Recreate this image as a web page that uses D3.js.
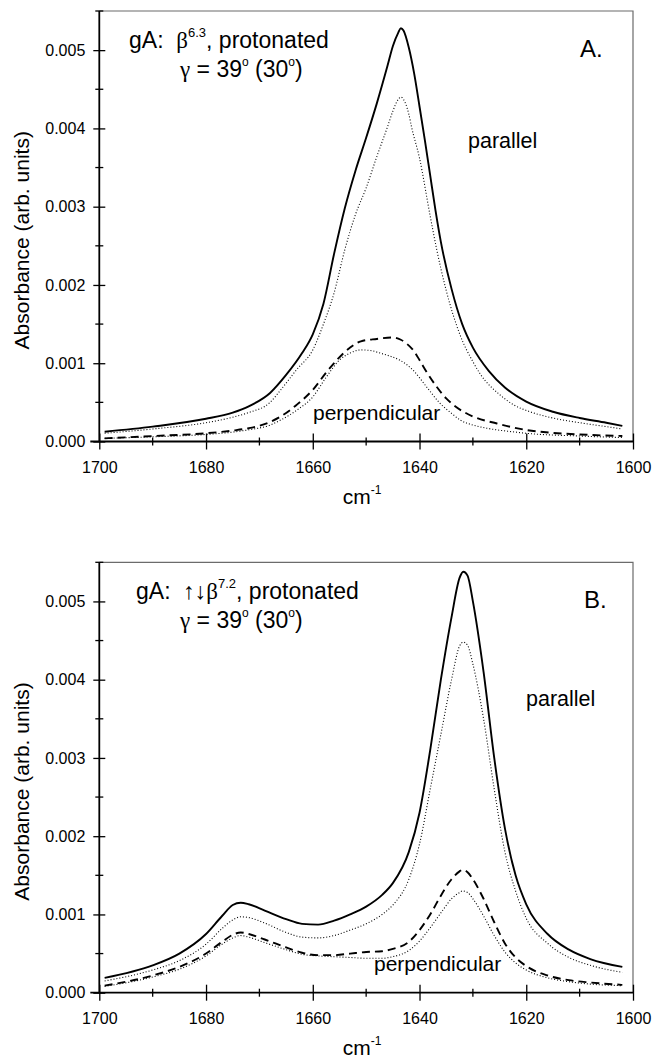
<!DOCTYPE html>
<html><head><meta charset="utf-8">
<script src="https://cdn.jsdelivr.net/npm/d3@7"></script>
<style>
body{margin:0;background:#fff;}
svg{display:block;}
text{font-family:"Liberation Sans",Arial,sans-serif;fill:#000;white-space:pre;}
</style></head>
<body><svg id="chart" width="654" height="1059"></svg>
<script>
// ---------- data ----------
const xMajorTicks = [1700,1680,1660,1640,1620,1600];
const xMinorTicks = [1690,1670,1650,1630,1610];
const yMajorTicks = [0,0.001,0.002,0.003,0.004,0.005];
const yMinorTicks = [0.0005,0.0015,0.0025,0.0035,0.0045,0.0055];

// Panel A (beta 6.3)
const aParallelSolid = [[1699,0.000125],[1690,0.00019],[1680,0.00029],[1675,0.00037],[1672,0.00045],[1668,0.00062],[1665,0.00085],[1662,0.00113],[1660,0.00137],[1658,0.00176],[1656,0.00240],[1654,0.00298],[1652,0.00346],[1650,0.00388],[1648,0.00432],[1646,0.00480],[1645,0.00505],[1644,0.00522],[1643.5,0.00528],[1643,0.00525],[1642,0.00503],[1641,0.00470],[1640,0.00428],[1639,0.00385],[1638,0.00340],[1637,0.00295],[1636,0.00255],[1634,0.00195],[1632,0.00150],[1630,0.00120],[1627,0.00090],[1624,0.00069],[1620,0.00051],[1615,0.00038],[1610,0.00030],[1605,0.00024],[1602,0.00020]];
const aParallelDotted = [[1699,0.000105],[1690,0.00016],[1680,0.00024],[1675,0.00031],[1672,0.00037],[1668,0.00050],[1666,0.00066],[1663,0.00092],[1660,0.00117],[1658,0.00150],[1656,0.00190],[1654,0.00245],[1652,0.00290],[1650,0.00324],[1648,0.00364],[1646,0.00402],[1645,0.00422],[1644,0.00437],[1643.5,0.00440],[1643,0.00437],[1642,0.00418],[1641.5,0.00402],[1640,0.00362],[1638,0.00288],[1636.8,0.00246],[1635,0.00193],[1632.4,0.00136],[1630,0.00102],[1628.6,0.00086],[1625,0.00060],[1622.4,0.00047],[1619.3,0.00038],[1615,0.00030],[1610,0.00024],[1605,0.00019],[1602,0.00016]];
const aPerpDashed = [[1699,0.00004],[1690,0.00007],[1680,0.000105],[1675,0.00014],[1672,0.00017],[1668,0.00025],[1666,0.00032],[1663,0.00047],[1660,0.00066],[1657.5,0.00088],[1655.5,0.00104],[1653,0.00120],[1651,0.00128],[1648,0.00131],[1645,0.00133],[1643.5,0.00130],[1642.4,0.00125],[1641,0.00115],[1640,0.00104],[1638.5,0.00087],[1636.8,0.00070],[1635,0.00055],[1633.7,0.00047],[1630,0.00032],[1625.5,0.00023],[1620,0.000147],[1615,0.00011],[1610,0.00009],[1602,0.00007]];
const aPerpDotted = [[1699,0.00004],[1690,0.00006],[1680,0.00009],[1675,0.00012],[1672,0.00015],[1668,0.00021],[1666,0.000275],[1663,0.00040],[1660,0.00057],[1657.5,0.00082],[1655,0.00104],[1653,0.00113],[1651,0.00117],[1649,0.00116],[1647.4,0.00113],[1645.5,0.00109],[1643.7,0.00104],[1641.2,0.00091],[1638.7,0.00070],[1636.2,0.00049],[1634,0.00036],[1632.4,0.000275],[1630,0.00021],[1627.4,0.00017],[1622,0.00012],[1620,0.000105],[1610,0.00007],[1602,0.00005]];

// Panel B (up-down beta 7.2)
const bParallelSolid = [[1699,0.00019],[1690,0.00035],[1685,0.00050],[1680,0.00075],[1677,0.00098],[1675,0.00112],[1673.5,0.00115],[1672,0.00113],[1669,0.00105],[1665,0.00094],[1662,0.00088],[1659,0.00087],[1656,0.00092],[1653,0.00100],[1650,0.00110],[1647,0.00125],[1645,0.00140],[1642,0.00180],[1640,0.00230],[1638,0.00310],[1636,0.00400],[1634,0.00480],[1632.5,0.00530],[1631.8,0.00538],[1631,0.00533],[1630,0.00500],[1628,0.00410],[1626,0.00300],[1624,0.00210],[1622,0.00150],[1620,0.00113],[1616,0.00075],[1612,0.00055],[1608,0.00043],[1602,0.00033]];
const bParallelDotted = [[1699,0.00015],[1690,0.00029],[1685,0.00041],[1680,0.00062],[1677,0.00082],[1675,0.00093],[1673.5,0.00097],[1672,0.00096],[1669,0.00089],[1665,0.00077],[1662,0.00071],[1659,0.00070],[1656,0.00073],[1653,0.00080],[1650,0.00088],[1647,0.00100],[1645,0.00112],[1642,0.00145],[1640,0.00190],[1638,0.00260],[1636,0.00330],[1634,0.00400],[1632.5,0.00443],[1631.8,0.00448],[1631,0.00444],[1630,0.00420],[1628,0.00350],[1626,0.00260],[1624,0.00180],[1622,0.00130],[1620,0.00095],[1616,0.00063],[1612,0.00045],[1608,0.00035],[1602,0.00026]];
const bPerpDashed = [[1699,0.00009],[1690,0.00022],[1685,0.00033],[1680,0.00050],[1677,0.00065],[1675,0.00074],[1673.5,0.00077],[1672,0.00075],[1669,0.00068],[1665,0.00058],[1662,0.00051],[1659,0.00048],[1656,0.00048],[1653,0.00050],[1650,0.00052],[1647,0.00053],[1645,0.00056],[1642,0.00065],[1640,0.00080],[1638,0.00100],[1636,0.00124],[1634,0.00145],[1632.5,0.00155],[1632,0.00157],[1631,0.00154],[1630,0.00145],[1628,0.00120],[1626,0.00090],[1624,0.00063],[1622,0.00045],[1620,0.00034],[1616,0.00022],[1612,0.00016],[1608,0.00013],[1602,0.00010]];
const bPerpDotted = [[1699,0.00008],[1690,0.00020],[1685,0.00030],[1680,0.00047],[1677,0.00062],[1675,0.00070],[1673.5,0.00073],[1672,0.00071],[1669,0.00064],[1665,0.00055],[1662,0.00049],[1659,0.00047],[1656,0.00046],[1653,0.00045],[1650,0.00044],[1647,0.00044],[1645,0.00046],[1642,0.00054],[1640,0.00066],[1638,0.00083],[1636,0.00102],[1634,0.00120],[1632.5,0.00128],[1632,0.00130],[1631,0.00128],[1630,0.00120],[1628,0.00098],[1626,0.00073],[1624,0.00052],[1622,0.00038],[1620,0.00029],[1616,0.00019],[1612,0.00014],[1608,0.00011],[1602,0.00009]];

// ---------- drawing ----------
const svg = d3.select("#chart");
const X0 = 99.3, X1 = 633;
const x = d3.scaleLinear().domain([1700,1600]).range([X0,X1]);

const styles = {
  solid:  {w:1.9, dash:null},
  dotted: {w:1.1, dash:"1,2"},
  dashed: {w:1.9, dash:"8,5"}
};

function panel(cfg){
  const y = d3.scaleLinear().domain([0,0.0055]).range([cfg.bottom,cfg.top]);
  const g = svg.append("g");
  g.append("path").attr("d",`M${X0},${cfg.top}H${X1}V${cfg.bottom}`)
    .attr("fill","none").attr("stroke","#6b6b6b").attr("stroke-width",1.2);

  const line = d3.line().x(d=>x(d[0])).y(d=>y(d[1])).curve(d3.curveMonotoneX);
  cfg.series.forEach(s=>{
    const st = styles[s.style];
    g.append("path").datum(s.data).attr("d",line).attr("fill","none")
      .attr("stroke","#000").attr("stroke-width",st.w)
      .attr("stroke-dasharray",st.dash);
  });

  const xa = g.append("g").attr("transform",`translate(0,${cfg.bottom})`)
    .call(d3.axisBottom(x).tickValues(xMajorTicks).tickFormat(d3.format("d")).tickSize(8).tickPadding(12));
  xa.select(".domain").attr("stroke","#000").attr("stroke-width",1.8).attr("d",`M${X0-9},0H${X1}`);
  xa.selectAll(".tick line").attr("y1",-8).attr("stroke-width",1.3);
  xa.selectAll(".tick text").attr("font-size",16).attr("font-family","Liberation Sans, Arial, sans-serif");
  g.append("g").selectAll("line").data(xMinorTicks).join("line")
    .attr("x1",d=>x(d)).attr("x2",d=>x(d)).attr("y1",cfg.bottom-4).attr("y2",cfg.bottom+4)
    .attr("stroke","#000").attr("stroke-width",1.3);

  const ya = g.append("g").attr("transform",`translate(${X0},0)`)
    .call(d3.axisLeft(y).tickValues(yMajorTicks).tickFormat(d3.format(".3f")).tickSize(6).tickPadding(8));
  ya.select(".domain").attr("stroke","#000").attr("stroke-width",1.8).attr("d",`M0,${cfg.top}V${cfg.bottom}`);
  ya.selectAll(".tick line").attr("x2",6).attr("x1",-6).attr("stroke-width",1.3);
  ya.selectAll(".tick text").attr("font-size",16).attr("font-family","Liberation Sans, Arial, sans-serif");
  g.append("g").selectAll("line").data(yMinorTicks).join("line")
    .attr("x1",X0-4).attr("x2",X0+4).attr("y1",d=>y(d)).attr("y2",d=>y(d))
    .attr("stroke","#000").attr("stroke-width",1.3);

  g.append("text").attr("transform",`translate(29,${(cfg.top+cfg.bottom)/2+14}) rotate(-90)`)
    .attr("text-anchor","middle").attr("font-size",21).text("Absorbance (arb. units)");
  const cm = g.append("text").attr("x",(X0+X1)/2-4).attr("y",cfg.bottom+62).attr("text-anchor","middle").attr("font-size",21);
  cm.append("tspan").text("cm");
  cm.append("tspan").attr("font-size",12).attr("dy",-10).text("-1");

  const t1 = g.append("text").attr("x",cfg.titleX).attr("y",cfg.top+37).attr("font-size",23);
  t1.append("tspan").text("gA:\u00A0\u00A0");
  if(cfg.arrows) t1.append("tspan").text("\u2191\u2193");
  t1.append("tspan").attr("font-family","Liberation Serif").text("\u03B2");
  t1.append("tspan").attr("font-size",13).attr("dy",-11).text(cfg.sup);
  t1.append("tspan").attr("dy",11).text(", protonated");

  const t2 = g.append("text").attr("x",180).attr("y",cfg.top+66).attr("font-size",23);
  t2.append("tspan").attr("font-family","Liberation Serif").text("\u03B3");
  t2.append("tspan").text(" = 39");
  t2.append("tspan").attr("font-size",12).attr("dy",-11).text("o");
  t2.append("tspan").attr("dy",11).text(" (30");
  t2.append("tspan").attr("font-size",12).attr("dy",-11).text("o");
  t2.append("tspan").attr("dy",11).text(")");

  g.append("text").attr("x",cfg.letterX).attr("y",cfg.top+46).attr("font-size",24).text(cfg.letter);
  g.append("text").attr("x",cfg.parX).attr("y",cfg.top+cfg.parDY).attr("font-size",21.5).text("parallel");
  g.append("text").attr("x",cfg.perpX).attr("y",cfg.perpY).attr("font-size",21).text("perpendicular");
}

panel({top:11, bottom:441.5, titleX:129, sup:"6.3", arrows:false, letter:"A.", letterX:580,
  parX:468, parDY:137, perpX:313, perpY:420,
  series:[{data:aParallelSolid,style:"solid"},{data:aParallelDotted,style:"dotted"},{data:aPerpDashed,style:"dashed"},{data:aPerpDotted,style:"dotted"}]});
panel({top:562.3, bottom:992.7, titleX:136, sup:"7.2", arrows:true, letter:"B.", letterX:584,
  parX:526, parDY:144, perpX:374, perpY:971,
  series:[{data:bParallelSolid,style:"solid"},{data:bParallelDotted,style:"dotted"},{data:bPerpDashed,style:"dashed"},{data:bPerpDotted,style:"dotted"}]});
</script></body></html>
